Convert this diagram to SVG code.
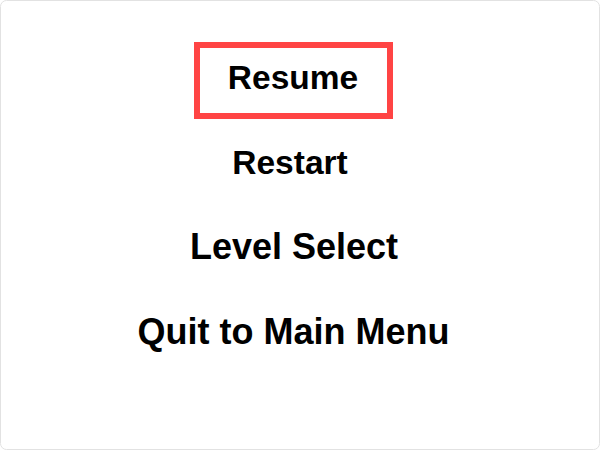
<svg xmlns="http://www.w3.org/2000/svg" width="600" height="450" viewBox="0 0 600 450">
  <style>
    .item { font-family: "Liberation Sans", Arial, sans-serif; font-weight: bold; fill: #000000; text-anchor: middle; }
    .sel { fill: none; stroke: #ff4444; stroke-width: 6; }
  </style>
  <rect x="0.5" y="0.5" width="599" height="449" rx="6" ry="6" fill="#ffffff" stroke="#e2e2e2" stroke-width="1"/>
  <g id="menu-resume">
    <rect class="sel" x="197" y="45" width="193" height="71"/>
    <text class="item" x="293" y="88.5" font-size="33.5">Resume</text>
  </g>
  <g id="menu-restart">
    <text class="item" x="290" y="174" font-size="33.5">Restart</text>
  </g>
  <g id="menu-level-select">
    <text class="item" x="294" y="259" font-size="36">Level Select</text>
  </g>
  <g id="menu-quit">
    <text class="item" x="293.5" y="343.5" font-size="36">Quit to Main Menu</text>
  </g>
  <g id="connectors"></g>
</svg>
